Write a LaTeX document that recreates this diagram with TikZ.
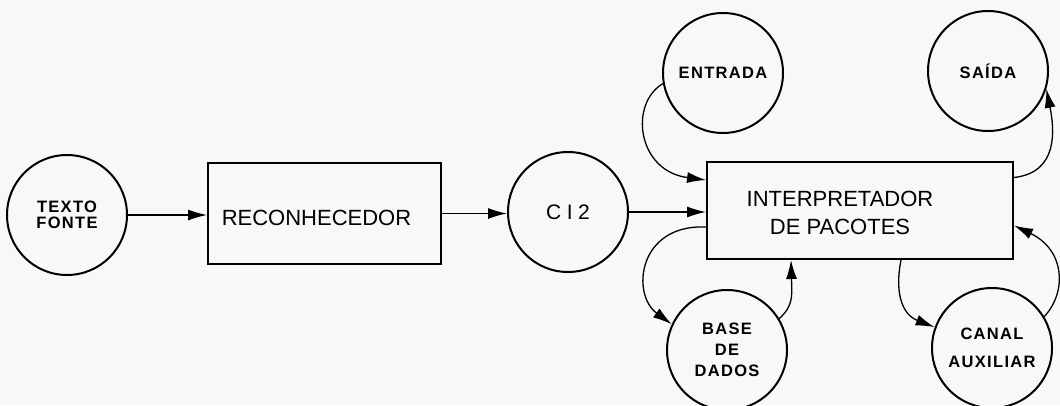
\documentclass[tikz,border=0pt]{standalone}
\usepackage{fontspec}
\setmainfont{Liberation Sans}
\newfontfamily\lblfont[LetterSpace=8]{Liberation Sans}
\newfontfamily\cifont[LetterSpace=26]{Liberation Sans}
\usetikzlibrary{arrows.meta,calc}
\definecolor{paper}{RGB}{248,248,246}
\begin{document}
\begin{tikzpicture}[x=1pt,y=-1pt,
  circ/.style={circle, draw, line width=2pt, minimum size=120pt, inner sep=0pt, align=center,
    font=\lblfont\bfseries\fontsize{16.5}{21}\selectfont},
  box/.style={rectangle, draw, line width=2pt, inner sep=0pt},
  boxtxt/.style={inner sep=0pt, align=center, font=\fontsize{22}{28}\selectfont},
  conn/.style={line width=1.3pt, -{Latex[length=19pt,width=11pt]}}
]
\path[fill=paper, use as bounding box] (0,0) rectangle (1060,405);

% nodes
\node[circ, font=\lblfont\bfseries\fontsize{16.5}{15.5}\selectfont] (tf) at (67,215) {TEXTO\\FONTE};
\node[box, minimum width=233pt, minimum height=101pt] (recon) at (324.5,213.5) {};
\node[boxtxt] (recontxt) at (316.5,218) {RECONHECEDOR};
\node[circ, font=\cifont\fontsize{21}{21}\selectfont] (ci2) at (568,212) {CI2};
\node[box, minimum width=306pt, minimum height=97pt] (interp) at (860,210.5) {};
\node[boxtxt] (interptxt) at (840,213) {INTERPRETADOR\\DE PACOTES};
\node[circ] (entrada) at (723,73) {ENTRADA};
\node[circ] (saida) at (988,71) {SAÍDA};
\node[circ, font=\lblfont\bfseries\fontsize{16.5}{21}\selectfont] (base) at (727,350) {BASE\\DE\\DADOS};
\node[circ, font=\lblfont\bfseries\fontsize{16.5}{28}\selectfont] (canal) at (992,348) {CANAL\\AUXILIAR};

% connectors
\draw[conn] (tf.east) -- (tf.east -| recon.west);
\draw[conn] (recon.east) -- (recon.east -| ci2.west);
\draw[conn] (ci2.east) -- (ci2.east -| interp.west);
\draw[conn] (entrada.190) .. controls +(-34,20) and +(-69,-9) .. ($(interp.north west)+(0,19)$);
\draw[conn] ($(interp.north west)+(0,66)$) .. controls +(-68,-3) and +(-41,-30) .. (base.155);
\draw[conn] (base.31) .. controls +(14,-13) and +(1,37) .. ($(interp.south west)+(85,0)$);
\draw[conn] ($(interp.south west)+(195,0)$) .. controls +(-7,36) and +(-31,-12) .. (canal.160);
\draw[conn] (canal.31) .. controls +(23,-25) and +(51,24.5) .. ($(interp.east)+(0,15)$);
\draw[conn] ($(interp.east)+(0,-33)$) .. controls +(45,-5) and +(8,40) .. (saida.-17);
\end{tikzpicture}
\end{document}
